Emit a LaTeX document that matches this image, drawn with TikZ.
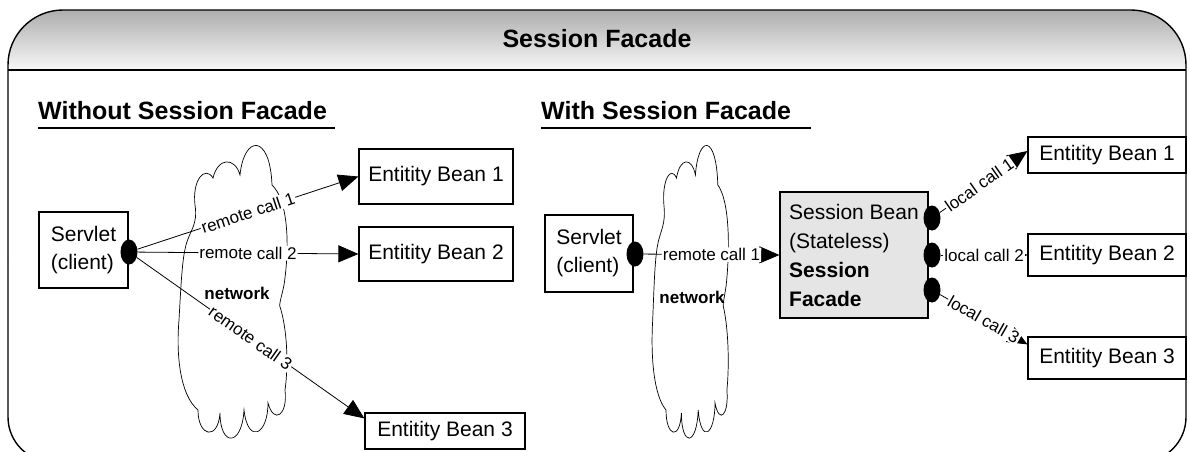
\documentclass[tikz,border=0pt]{standalone}
\usepackage{fontspec}
\setmainfont{Liberation Sans}
\usetikzlibrary{arrows.meta,shapes.geometric}
\definecolor{FacadeClr}{rgb}{0.9,0.9,0.9}
\definecolor{HeadTopClr}{rgb}{0.68,0.68,0.68}
\definecolor{HeadBotClr}{rgb}{0.97,0.97,0.97}

% cloud outline, #1 = top left, #2 = xscale
\newcommand{\netcloud}[2]{%
\begin{scope}[shift={#1},xscale=#2]
\draw[line width=.7pt] (17,60) .. controls (14,35) and (27,20) .. (35,33)
  .. controls (40,12) and (57,12) .. (62,30)
  .. controls (66,-10) and (92,-12) .. (94,40)
  .. controls (110,55) and (112,100) .. (106,140)
  .. controls (103,155) and (100,160) .. (103,165)
  .. controls (110,190) and (110,225) .. (107,245)
  .. controls (110,270) and (96,280) .. (90,258)
  .. controls (90,290) and (70,300) .. (66,265)
  .. controls (64,302) and (42,302) .. (42,268)
  .. controls (40,296) and (20,292) .. (20,265)
  .. controls (2,250) and (-2,210) .. (1,175)
  .. controls (3,140) and (4,115) .. (8,100)
  .. controls (12,85) and (20,80) .. (17,60) -- cycle;
\end{scope}}

\begin{document}
\begin{tikzpicture}[x=1pt,y=-1pt,
  bean/.style={draw,line width=1.2pt,fill=white,inner sep=0pt,font=\fontsize{21}{28}\selectfont},
  port/.style={ellipse,fill=black,inner sep=0pt,minimum width=17pt,minimum height=25pt},
  call/.style={line width=.8pt,-{Triangle[length=20pt,width=17pt]}},
  smallcall/.style={line width=.8pt,-{Triangle[length=8pt,width=7pt]}},
  lbl/.style={midway,sloped,fill=white,inner sep=1pt,font=\fontsize{17}{17}\selectfont},
  heading/.style={anchor=base west,inner sep=0pt,font=\fontsize{25}{25}\selectfont\bfseries},
  net/.style={font=\fontsize{17}{17}\selectfont\bfseries}]

\useasboundingbox (0,0) rectangle (1190,451);

% frame and header
\shade[top color=HeadTopClr,bottom color=HeadBotClr,rounded corners=55pt] (8,70) -- (8,10) -- (1186,10) -- (1186,70);
\draw[line width=1.4pt,rounded corners=55pt] (8,260) -- (8,10) -- (1186,10) -- (1186,260);
\draw[line width=1.4pt,rounded corners=45pt] (8,260) -- (8,462) -- (1186,462) -- (1186,260);
\draw[line width=1.4pt] (8,70) -- (1186,70);

\node[font=\fontsize{25}{25}\selectfont\bfseries] (title) at (597,39) {Session Facade};

\node[heading] (hwithout) at (38,119) {Without Session Facade};
\draw[line width=1.2pt] (38,128) -- (335,128);
\node[heading] (hwith) at (541,119) {With Session Facade};
\draw[line width=1.2pt] (541,128) -- (811,128);

\netcloud{(178,145)}{1}
\netcloud{(652,145)}{.7}

% without facade
\node[bean,align=left,minimum width=89pt,minimum height=76pt] (lsrv) at (83.5,250) {Servlet\\(client)};
\node[port] (ldot) at (129,252) {};
\node[bean,minimum width=154pt,minimum height=55pt] (leb1) at (436,176.5) {Entitity Bean 1};
\node[bean,minimum width=154pt,minimum height=54pt] (leb2) at (436,254) {Entitity Bean 2};
\node[bean,minimum width=160pt,minimum height=36pt] (leb3) at (445,431) {Entitity Bean 3};

\draw[call] (ldot) -- (leb1.west) node[lbl] {remote call 1};
\draw[call] (ldot) -- (leb2.west) node[lbl] {remote call 2};
\draw[call] (ldot) -- ([yshift=-6pt]leb3.north west) node[lbl] {remote call 3};

\node[net] (lnet) at (237,293) {network};

% with facade
\node[bean,align=left,minimum width=88pt,minimum height=77pt] (rsrv) at (589,253.5) {Servlet\\(client)};
\node[port] (rdot) at (635,254) {};
\node[bean,fill=FacadeClr,align=left,minimum width=148pt,minimum height=126pt,font=\fontsize{21}{29}\selectfont] (sfac) at (854,255)
  {Session Bean\\(Stateless)\\\textbf{Session}\\\textbf{Facade}};
\node[port] (fdot1) at (932,218) {};
\node[port] (fdot2) at (932,255) {};
\node[port] (fdot3) at (932,290) {};
\node[bean,minimum width=158pt,minimum height=36pt] (reb1) at (1107,155) {Entitity Bean 1};
\node[bean,minimum width=158pt,minimum height=42pt] (reb2) at (1107,255) {Entitity Bean 2};
\node[bean,minimum width=158pt,minimum height=42pt] (reb3) at (1107,358) {Entitity Bean 3};

\draw[call] (rdot) -- (sfac.west) node[lbl] {remote call 1};
\draw[call] (fdot1) -- ([yshift=4pt]reb1.west) node[lbl,pos=.45] {local call 1};
\draw[smallcall] (fdot2) -- (reb2.west) node[lbl] {local call 2};
\draw[call] (fdot3) -- ([yshift=-8pt]reb3.north west) node[lbl] {local call 3};

\node[net] (rnet) at (692,297) {network};

\end{tikzpicture}
\end{document}
